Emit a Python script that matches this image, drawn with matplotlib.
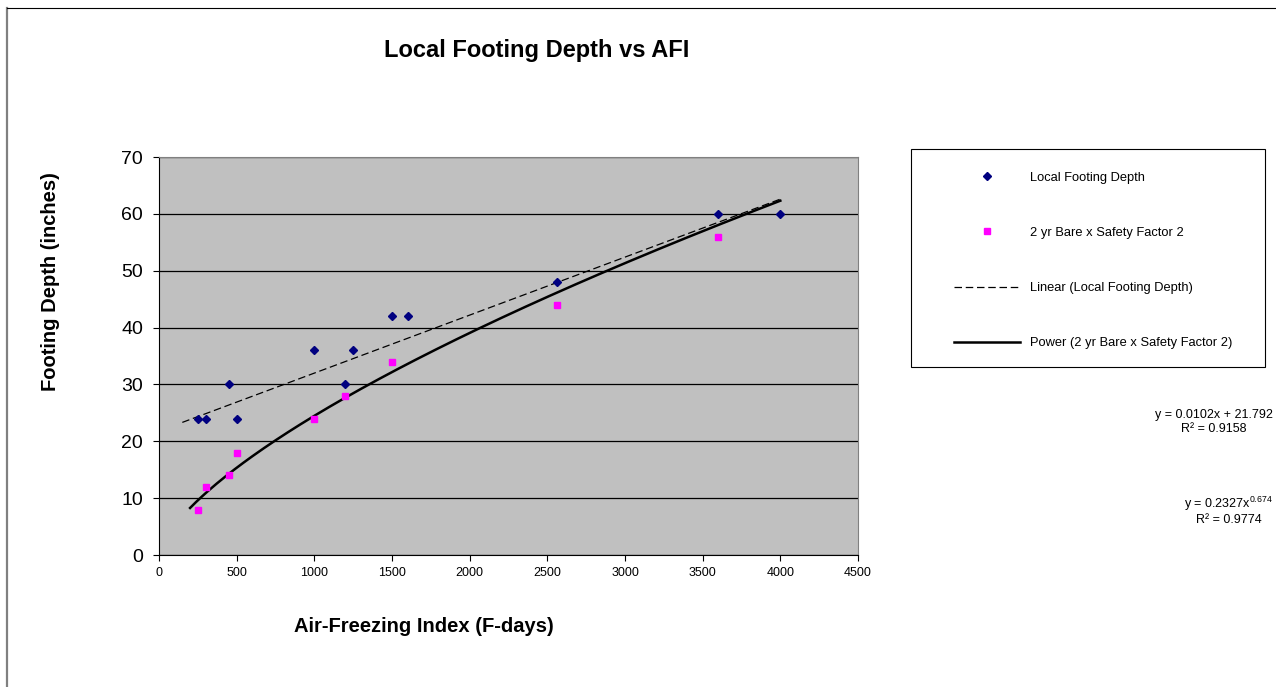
import numpy as np
import matplotlib.pyplot as plt
from matplotlib.lines import Line2D
from matplotlib.patches import Rectangle

plt.rcParams['font.family'] = ['Liberation Sans', 'DejaVu Sans']
plt.rcParams['mathtext.default'] = 'regular'

# data
afi_local = [250, 300, 450, 500, 1000, 1200, 1250, 1500, 1600, 2560, 3600, 4000]
depth_local = [24, 24, 30, 24, 36, 30, 36, 42, 42, 48, 60, 60]

afi_bare = [250, 300, 450, 500, 1000, 1200, 1500, 2560, 3600]
depth_bare = [8, 12, 14, 18, 24, 28, 34, 44, 56]

# trendline coefficients as printed on the chart
lin_slope, lin_icpt, lin_r2 = 0.0102, 21.792, 0.9158
pow_coef, pow_exp, pow_r2 = 0.2327, 0.674, 0.9774
lin_range = (150, 4000)
pow_range = (200, 4000)

W, H = 1276, 687
fig = plt.figure(figsize=(W / 100, H / 100), dpi=100)

def fx(px):
    return px / W

def fy(py):
    return 1 - py / H

# outer chart border (cut off at right and bottom)
fig.add_artist(Line2D([fx(7), fx(7)], [fy(8), 0], color='#808080', lw=1.6))
fig.add_artist(Line2D([fx(7), 1], [fy(8), fy(8)], color='#000000', lw=0.8))

ax = fig.add_axes([fx(159), fy(555), fx(858 - 159), (555 - 157) / H])
ax.set_facecolor('#C0C0C0')

ax.set_xlim(0, 4500)
ax.set_ylim(0, 70)
ax.set_xticks(np.arange(0, 4501, 500))
ax.set_yticks(np.arange(0, 71, 10))
ax.yaxis.grid(True, color='#000000', lw=0.9)
ax.set_axisbelow(True)

for s in ['top', 'right']:
    ax.spines[s].set_color('#808080')
    ax.spines[s].set_linewidth(0.8)
for s in ['left', 'bottom']:
    ax.spines[s].set_color('#000000')
    ax.spines[s].set_linewidth(0.8)

ax.tick_params(axis='y', direction='out', length=4.5, width=0.8, labelsize=14, pad=7)
ax.tick_params(axis='x', direction='out', length=4.5, width=0.8, labelsize=9, pad=4)

# trendlines
xl = np.linspace(lin_range[0], lin_range[1], 200)
ax.plot(xl, lin_slope * xl + lin_icpt, color='black', lw=0.9, dashes=(6, 3),
        label='Linear (Local Footing Depth)', zorder=3)
xp = np.linspace(pow_range[0], pow_range[1], 200)
ax.plot(xp, pow_coef * xp ** pow_exp, color='black', lw=1.8,
        label='Power (2 yr Bare x Safety Factor 2)', zorder=3)

# scatter series
ax.plot(afi_local, depth_local, 'D', color='#000080', markersize=4.5, ls='none',
        label='Local Footing Depth', zorder=4)
ax.plot(afi_bare, depth_bare, 's', color='#FF00FF', markersize=5, ls='none',
        label='2 yr Bare x Safety Factor 2', zorder=4)

fig.text(fx(536.5), fy(50), 'Local Footing Depth vs AFI', ha='center', va='center',
         fontsize=17, fontweight='bold')
fig.text(fx(423.5), fy(627), 'Air-Freezing Index (F-days)', ha='center', va='center',
         fontsize=14.5, fontweight='bold')
fig.text(fx(50), fy(282), 'Footing Depth (inches)', rotation=90, ha='center', va='center',
         fontsize=14.5, fontweight='bold')

# legend with its own frame
fig.add_artist(Rectangle((fx(911), fy(367)), fx(1265 - 911), (367 - 149) / H,
                         fill=False, edgecolor='#000000', lw=0.8))
handles, labels = ax.get_legend_handles_labels()
order = [2, 3, 0, 1]
fig.legend([handles[i] for i in order], [labels[i] for i in order],
           loc='center left', bbox_to_anchor=(fx(954), fy(260.5)), frameon=False,
           fontsize=9.3, labelspacing=3.35, handlelength=5.1, handletextpad=0.78,
           borderpad=0, borderaxespad=0)

fig.text(fx(1273), fy(422), 'y = %.4fx + %.3f\nR² = %.4f' % (lin_slope, lin_icpt, lin_r2),
         ha='right', va='center', multialignment='center', fontsize=9, linespacing=1.25)
fig.text(fx(1273), fy(510.5), 'y = %.4fx$^{%.3f}$\nR² = %.4f' % (pow_coef, pow_exp, pow_r2),
         ha='right', va='center', multialignment='center', fontsize=9, linespacing=1.15)

fig.savefig('out.png', dpi=100)
